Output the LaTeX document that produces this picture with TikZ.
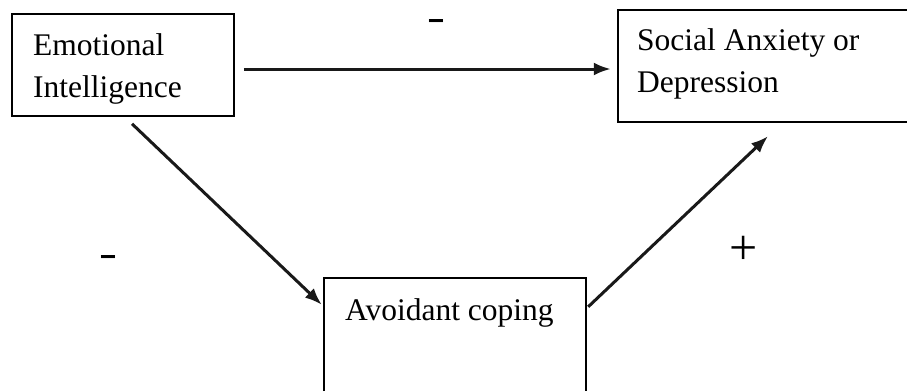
\documentclass[tikz,border=0pt]{standalone}
\usepackage{fontspec}
\setmainfont{Liberation Serif}
\usetikzlibrary{arrows.meta}
\begin{document}
\begin{tikzpicture}[x=1pt,y=-1pt,
  boxnode/.style={rectangle,inner sep=0pt,minimum width=#1},
  boxline/.style={line width=1.6pt,black},
  txt/.style={anchor=base west,inner sep=0pt,font=\fontsize{31.5}{42}\selectfont},
  arr/.style={line width=3pt,draw=black!90,-{Latex[length=17pt,width=13pt]}},
  minus/.style={inner sep=0pt,anchor=base,font=\bfseries\fontsize{36}{36}\selectfont},
  plus/.style={inner sep=0pt,font=\fontsize{50}{50}\selectfont}]
\useasboundingbox[fill=white] (0,0) rectangle (907,391);
% boxes
\node[boxnode=222pt,minimum height=102pt,draw,line width=1.6pt] (ei) at (123,65) {};
\node[boxnode=289pt,minimum height=112pt] (sa) at (762.5,66) {};
\node[boxnode=262pt,minimum height=113pt] (av) at (455,334.5) {};
\draw[boxline] (sa.north east) -- (sa.north west) -- (sa.south west) -- (sa.south east);
\draw[boxline] (av.south west) -- (av.north west) -- (av.north east) -- (av.south east);
% texts
\node[txt] (ei1) at (33,55) {Emotional};
\node[txt] (ei2) at (33,97) {Intelligence};
\node[txt] (sa1) at (637,50) {Social Anxiety or};
\node[txt] (sa2) at (637,92) {Depression};
\node[txt] (av1) at (345,320) {Avoidant coping};
% arrows
\draw[arr] ([shift={(9,4)}]ei.east) -- ([shift={(-7,3)}]sa.west);
\draw[arr] ([shift={(9,7)}]ei.south) -- ([shift={(-2,27)}]av.north west);
\draw[arr] ([shift={(2,29)}]av.north east) -- ([shift={(5.5,14)}]sa.south);
% signs
\node[minus] (m1) at (436,29.5) {\scalebox{1.5}[1]{-}};
\node[minus] (m2) at (108,265) {\scalebox{1.5}[1]{-}};
\node[plus] (p1) at (744,250) {+};
\end{tikzpicture}
\end{document}
